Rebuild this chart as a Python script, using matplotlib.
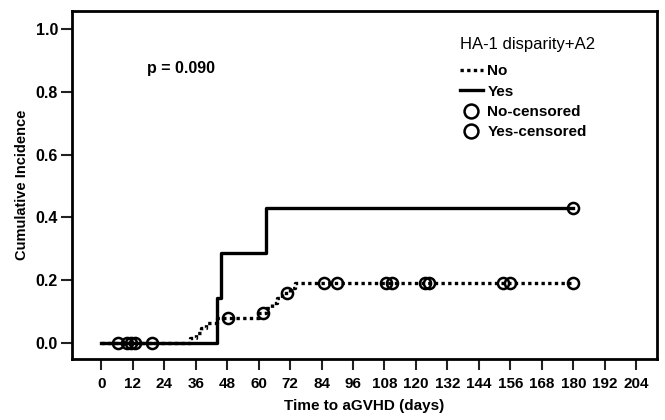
import numpy as np
import matplotlib.pyplot as plt
from matplotlib.lines import Line2D

# cumulative incidence step data
no_time = [0, 34, 36, 38, 40, 44, 60, 63, 65, 67, 69, 72, 74, 180]
no_ci = [0, 0.016, 0.032, 0.048, 0.064, 0.080, 0.097, 0.113, 0.129, 0.145, 0.158, 0.175, 0.192, 0.192]
yes_time = [0, 44, 45.5, 63, 180]
yes_ci = [0, 0.143, 0.286, 0.429, 0.429]

# censored times
no_cens = [6.5, 10, 11.5, 13, 19.5, 48.5, 61.5, 71, 85, 90, 108.5, 111, 123.5, 125, 153, 156, 180]
yes_cens = [180]

xticks = list(range(0, 205, 12))
yticks = [0.0, 0.2, 0.4, 0.6, 0.8, 1.0]
p_text = "p = 0.090"


def ci_at(times, ci, t):
    i = np.searchsorted(times, t, side="right") - 1
    return np.asarray(ci)[i]


plt.rcParams["font.family"] = ["Liberation Sans", "DejaVu Sans"]

fig = plt.figure(figsize=(6.65, 4.2), dpi=100)
ax = fig.add_axes([0.108, 0.145, 0.88, 0.829])

ax.step(no_time, no_ci, where="post", color="black", lw=2.4,
        linestyle=(0, (1, 1)), dash_capstyle="butt")
ax.step(yes_time, yes_ci, where="post", color="black", lw=2.4)

ax.plot(no_cens, ci_at(no_time, no_ci, no_cens), "o", ms=8, mfc="none",
        mec="black", mew=1.8, ls="none")
ax.plot(yes_cens, ci_at(yes_time, yes_ci, yes_cens), "o", ms=8, mfc="none",
        mec="black", mew=1.8, ls="none")

ax.set_xlim(-11.2, 211.9)
ax.set_ylim(-0.051, 1.057)
ax.set_xticks(xticks)
ax.set_yticks(yticks)
ax.set_xticklabels([str(x) for x in xticks], fontsize=11, fontweight="bold")
ax.set_yticklabels([f"{y:.1f}" for y in yticks], fontsize=11.5, fontweight="bold")
ax.tick_params(axis="both", direction="out", length=8, width=1.5, color="#222222")
ax.tick_params(axis="x", pad=5)
ax.tick_params(axis="y", pad=2)
for s in ax.spines.values():
    s.set_linewidth(2)

ax.set_xlabel("Time to aGVHD (days)", fontsize=11, fontweight="bold", labelpad=6)
ax.set_ylabel("Cumulative Incidence", fontsize=10.5, fontweight="bold", labelpad=5)

ax.text(0.128, 0.836, p_text, transform=ax.transAxes, fontsize=11.5,
        fontweight="bold", va="center")

handles = [
    Line2D([], [], color="black", lw=2.4, linestyle=(0, (1, 1))),
    Line2D([], [], color="black", lw=2.4),
    Line2D([], [], marker="o", ms=10, mfc="none", mec="black", mew=1.8, ls="none"),
    Line2D([], [], marker="o", ms=10, mfc="none", mec="black", mew=1.8, ls="none"),
]
labels = ["No", "Yes", "No-censored", "Yes-censored"]
leg = ax.legend(handles, labels, title="HA-1 disparity+A2", loc="upper left",
                bbox_to_anchor=(0.645, 0.957), frameon=False, handlelength=1.5,
                handletextpad=0.3, labelspacing=0.42, alignment="left",
                borderpad=0.2, prop={"weight": "bold", "size": 11},
                title_fontproperties={"size": 12})
leg._legend_box.sep = 9

fig.savefig("out.png", dpi=100)
